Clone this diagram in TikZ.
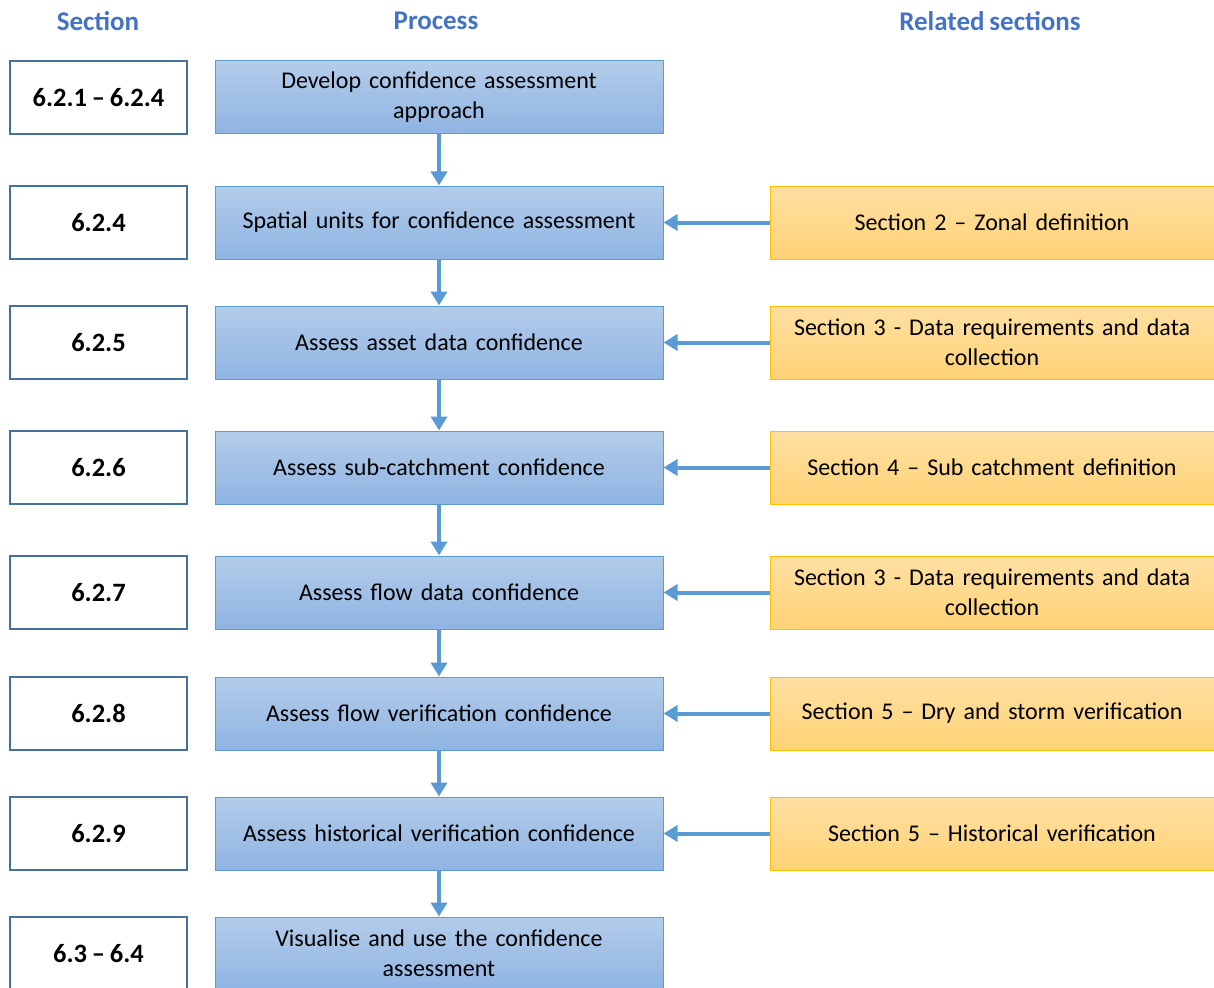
\documentclass[tikz,border=0pt]{standalone}
\usepackage{fontspec}
\setmainfont[WordSpace=0.8]{Carlito}
\usetikzlibrary{arrows.meta,positioning}
\definecolor{hdr}{HTML}{4472C4}
\definecolor{secb}{HTML}{41719C}
\definecolor{proctop}{HTML}{B3CCEA}
\definecolor{procbot}{HTML}{8FB4E2}
\definecolor{procb}{HTML}{5B9BD5}
\definecolor{reltop}{HTML}{FFE0A3}
\definecolor{relbot}{HTML}{FFD275}
\definecolor{relb}{HTML}{FFC000}
\definecolor{arr}{HTML}{5B9BD5}
\tikzset{
  secbox/.style={draw=secb, line width=1.5pt, fill=white, minimum width=177pt, minimum height=73pt, inner sep=0pt, font=\fontsize{26.5}{30}\selectfont\bfseries},
  procbox/.style={draw=procb, line width=1pt, top color=proctop, bottom color=procbot, minimum width=448pt, minimum height=73pt, inner sep=0pt, align=center, text width=430pt, font=\fontsize{24}{30}\selectfont},
  relbox/.style={draw=relb, line width=1pt, top color=reltop, bottom color=relbot, minimum width=444pt, minimum height=73pt, inner sep=0pt, align=center, text width=430pt, font=\fontsize{24}{30}\selectfont},
  hdrtext/.style={text=hdr, font=\fontsize{27}{30}\selectfont\bfseries},
  flow/.style={draw=arr, line width=4pt, -{Triangle[length=14pt,width=16pt]}}
}
\begin{document}
\begin{tikzpicture}[x=1pt,y=-1pt]
\useasboundingbox (0,0) rectangle (1214,987);
\node[hdrtext] (h1) at (98,21) {Section};
\node[hdrtext] (h2) at (436,21) {Process};
\node[hdrtext] (h3) at (990,21) {Related sections};

\node[secbox] (s1) at (98.5,97.5) {6.2.1 – 6.2.4};
\node[secbox] (s2) at (98.5,222.5) {6.2.4};
\node[secbox] (s3) at (98.5,342.5) {6.2.5};
\node[secbox] (s4) at (98.5,467.5) {6.2.6};
\node[secbox] (s5) at (98.5,592.5) {6.2.7};
\node[secbox] (s6) at (98.5,713.5) {6.2.8};
\node[secbox] (s7) at (98.5,833.5) {6.2.9};
\node[secbox] (s8) at (98.5,953.5) {6.3 – 6.4};

\node[procbox] (p1) at (439,97.5) {Develop confidence assessment\\approach};
\node[procbox] (p2) at (439,222.5) {Spatial units for confidence assessment};
\node[procbox] (p3) at (439,342.5) {Assess asset data confidence};
\node[procbox] (p4) at (439,467.5) {Assess sub-catchment confidence};
\node[procbox] (p5) at (439,592.5) {Assess flow data confidence};
\node[procbox] (p6) at (439,713.5) {Assess flow verification confidence};
\node[procbox] (p7) at (439,833.5) {Assess historical verification confidence};
\node[procbox] (p8) at (439,953.5) {Visualise and use the confidence\\assessment};

\node[relbox] (r2) at (992,222.5) {Section 2 – Zonal definition};
\node[relbox] (r3) at (992,342.5) {Section 3 - Data requirements and data\\collection};
\node[relbox] (r4) at (992,467.5) {Section 4 – Sub catchment definition};
\node[relbox] (r5) at (992,592.5) {Section 3 - Data requirements and data\\collection};
\node[relbox] (r6) at (992,713.5) {Section 5 – Dry and storm verification};
\node[relbox] (r7) at (992,833.5) {Section 5 – Historical verification};

\foreach \a/\b in {p1/p2,p2/p3,p3/p4,p4/p5,p5/p6,p6/p7,p7/p8}
  \draw[flow] (\a.south) -- (\b.north);
\foreach \i in {2,...,7}
  \draw[flow] (r\i.west) -- (p\i.east);
\end{tikzpicture}
\end{document}
